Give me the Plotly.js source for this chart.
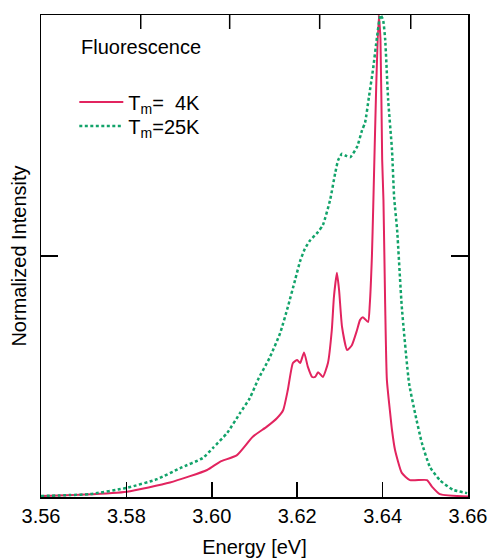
<!DOCTYPE html>
<html><head><meta charset="utf-8">
<script src="https://cdn.plot.ly/plotly-3.0.1.min.js"></script>
<style>html,body{margin:0;padding:0;background:#fff;}#chart{width:489px;height:559px;}</style>
</head><body><div id="chart"></div>
<script>
// Tm = 4K spectrum
const energy4K = [3.5600,3.5703,3.5801,3.5902,3.5989,3.6019,3.6059,3.6096,3.6129,3.6153,3.6167,3.6178,3.6190,3.6200,3.6207,3.6216,3.6225,3.6235,3.6242,3.6249,3.6260,3.6272,3.6281,3.6286,3.6293,3.6298,3.6305,3.6317,3.6328,3.6340,3.6347,3.6354,3.6366,3.6370,3.6375,3.6378,3.6385,3.6391,3.6395,3.6399,3.6402,3.6406,3.6410,3.6417,3.6422,3.6429,3.6445,3.6464,3.6504,3.6516,3.6534,3.6600];
const intensity4K = [0.002,0.005,0.011,0.030,0.056,0.073,0.087,0.125,0.146,0.164,0.180,0.222,0.278,0.284,0.278,0.300,0.270,0.249,0.249,0.259,0.249,0.278,0.346,0.415,0.465,0.430,0.353,0.305,0.315,0.346,0.367,0.373,0.363,0.400,0.500,0.600,0.850,1.000,0.950,0.700,0.616,0.400,0.243,0.180,0.139,0.098,0.050,0.035,0.035,0.021,0.006,0.001];
// Tm = 25K spectrum
const energy25K = [3.5600,3.5668,3.5715,3.5801,3.5872,3.5926,3.5979,3.6003,3.6036,3.6066,3.6089,3.6108,3.6136,3.6160,3.6178,3.6195,3.6207,3.6218,3.6230,3.6249,3.6260,3.6277,3.6289,3.6296,3.6305,3.6314,3.6324,3.6340,3.6352,3.6359,3.6368,3.6378,3.6387,3.6395,3.6401,3.6406,3.6413,3.6422,3.6427,3.6434,3.6445,3.6462,3.6476,3.6492,3.6511,3.6534,3.6565,3.6598];
const intensity25K = [0.002,0.004,0.006,0.019,0.037,0.060,0.081,0.102,0.133,0.174,0.205,0.243,0.290,0.340,0.394,0.450,0.490,0.515,0.532,0.550,0.564,0.616,0.672,0.699,0.712,0.708,0.705,0.726,0.761,0.777,0.830,0.890,0.955,1.000,0.990,0.950,0.824,0.720,0.622,0.554,0.394,0.236,0.174,0.112,0.062,0.035,0.015,0.008];

const seriesNames = ["T<sub>m</sub>=\u00a0\u00a04K", "T<sub>m</sub>=25K"];
const xTickVals = [3.56,3.58,3.60,3.62,3.64,3.66];
const wavelengthTicksNm = [346,344,342,340];
const HC = 1239.84; // eV*nm
const topTickVals = wavelengthTicksNm.map(l => HC / l);

const FONT = '"Liberation Sans", Arial, Helvetica, sans-serif';
const legendBase = {xanchor: 'left', yanchor: 'top', bgcolor: 'rgba(0,0,0,0)',
                    font: {family: FONT, size: 20, color: '#000'}, itemwidth: 44};
const X_RANGE = [3.56, 3.66];
const Y_RANGE = [0, 1.0];
const TOP_TICK_FRAC = 14 / 482;

const traces = [
  {x: energy4K, y: intensity4K, name: seriesNames[0], type: 'scatter', mode: 'lines', legend: 'legend',
   line: {color: '#e2245f', width: 2, shape: 'spline', smoothing: 0.5}},
  {x: energy25K, y: intensity25K, name: seriesNames[1], type: 'scatter', mode: 'lines', legend: 'legend2',
   line: {color: '#12a36a', width: 2.5, dash: '3px,2.5px', shape: 'spline', smoothing: 0.5}}
];

// top-axis (wavelength) tick marks, placed at the energies of the wavelength ticks
const topTickShapes = topTickVals.map(e => ({
  type: 'line', xref: 'x', yref: 'paper', x0: e, x1: e, y0: 1, y1: 1 - TOP_TICK_FRAC,
  line: {color: '#000', width: 1.5}
}));

const layout = {
  width: 489, height: 559,
  margin: {l: 41, r: 21, t: 15, b: 62},
  paper_bgcolor: '#fff', plot_bgcolor: '#fff',
  font: {family: FONT, size: 20, color: '#000'},
  showlegend: true,
  legend: Object.assign({x: 0.078, y: 0.860}, legendBase),
  legend2: Object.assign({x: 0.078, y: 0.810}, legendBase),
  xaxis: {range: X_RANGE, tickvals: xTickVals, tickformat: '.2f',
          ticks: 'inside', ticklen: 15, tickwidth: 1.5, tickcolor: '#000',
          showline: true, linecolor: '#000', linewidth: 1.5, mirror: true,
          showgrid: false, zeroline: false,
          tickfont: {family: FONT, size: 20, color: '#000'},
          title: {text: 'Energy [eV]', font: {family: FONT, size: 20, color: '#000'}, standoff: 14}},
  yaxis: {range: Y_RANGE, tickvals: [0.5], showticklabels: false,
          ticks: 'inside', ticklen: 17, tickwidth: 1.5, tickcolor: '#000',
          showline: true, linecolor: '#000', linewidth: 1.5, mirror: 'ticks',
          showgrid: false, zeroline: false,
          title: {text: 'Normalized Intensity', font: {family: FONT, size: 20, color: '#000'}, standoff: 7}},
  shapes: topTickShapes,
  annotations: [
    {text: 'Fluorescence', xref: 'paper', yref: 'paper', x: 0.09, y: 0.934,
     xanchor: 'left', yanchor: 'middle', showarrow: false,
     font: {family: FONT, size: 20, color: '#000'}}
  ]
};

Plotly.newPlot('chart', traces, layout, {displayModeBar: false, staticPlot: true});
</script>
</body></html>
